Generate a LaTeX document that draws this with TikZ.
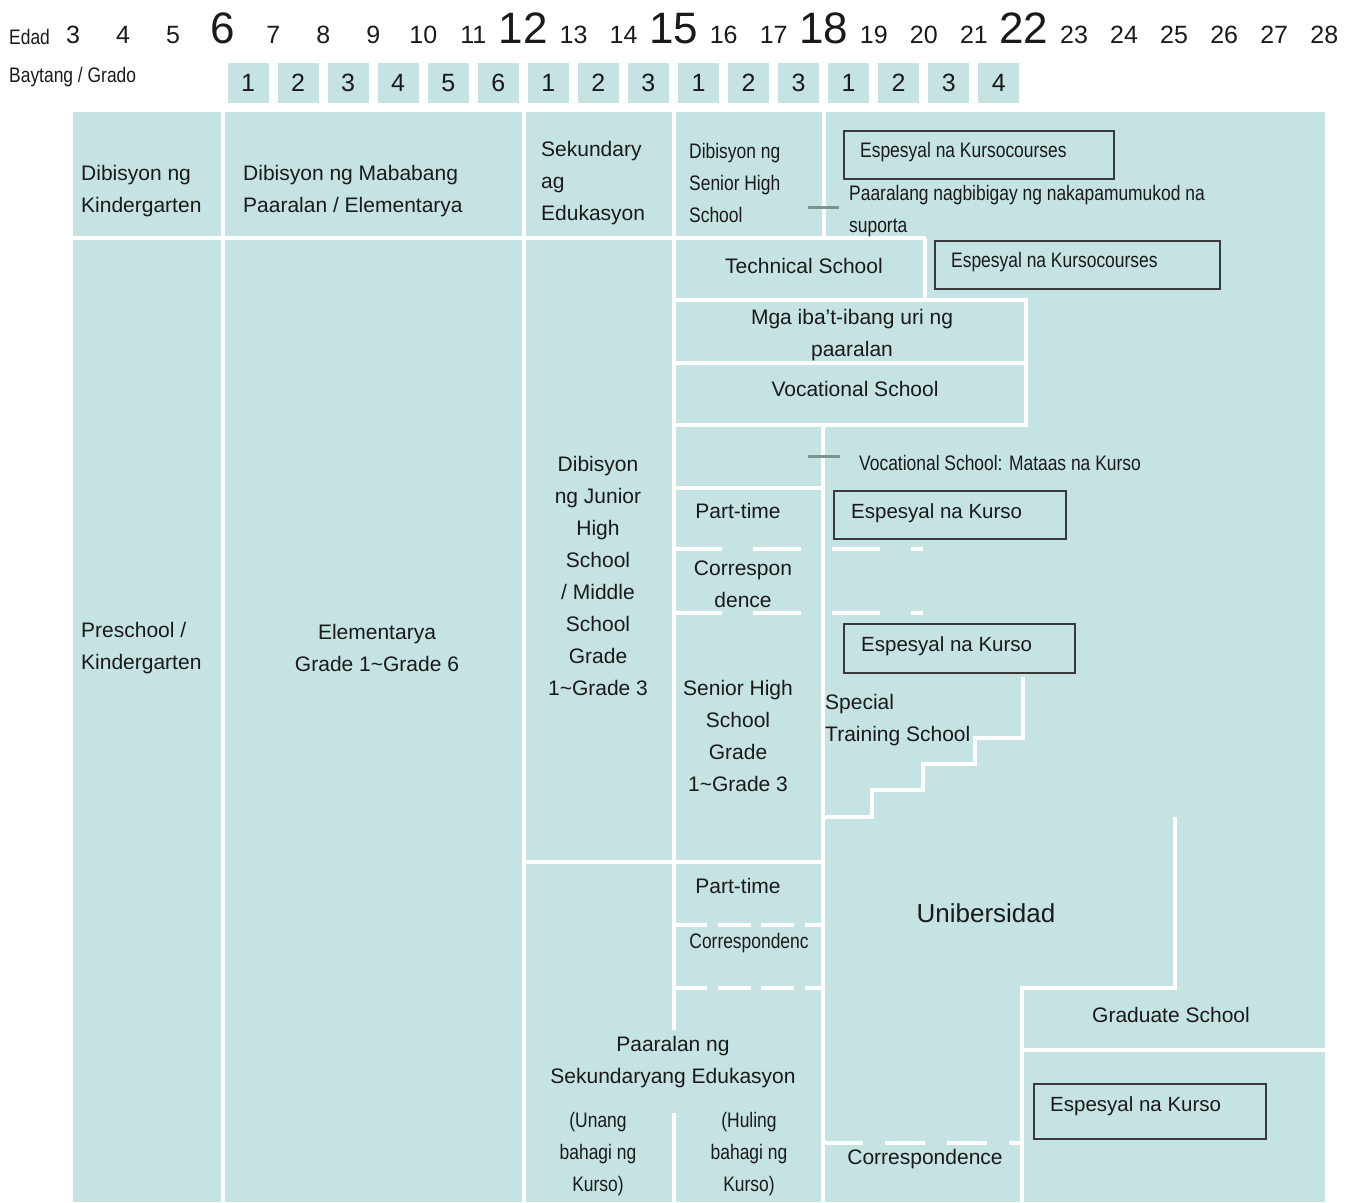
\documentclass[tikz,border=0pt]{standalone}
\usepackage{fontspec}
\setmainfont{Liberation Sans}
\newfontfamily\narrowfont[FakeStretch=0.83]{Liberation Sans}
\definecolor{teal1}{HTML}{C4E3E2}
\definecolor{ink}{HTML}{1A1A1A}
\definecolor{boxline}{HTML}{3A3A3A}
\definecolor{dashgray}{HTML}{7E9292}
\begin{document}
\begin{tikzpicture}[x=1pt,y=-1pt,
  wl/.style={white,line width=4.5pt},
  wd1/.style={wl,dash pattern=on 48pt off 31pt},
  wd2/.style={wl,dash pattern=on 33pt off 10.5pt},
  wd3/.style={wl,dash pattern=on 40pt off 22pt},
  gseg/.style={dashgray,line width=3pt},
  txt/.style={inner sep=0pt,text=ink,font=\fontsize{21}{32}\selectfont,align=center},
  ltxt/.style={txt,align=left,anchor=west},
  ntxt/.style={inner sep=0pt,text=ink,font=\narrowfont\fontsize{21}{32}\selectfont,align=center},
  lntxt/.style={ntxt,align=left,anchor=west},
  ktxt/.style={inner sep=0pt,text=ink,font=\fontsize{20.5}{24}\selectfont,anchor=west},
  age/.style={inner sep=0pt,anchor=base,text=ink,font=\fontsize{25}{25}\selectfont},
  bigage/.style={age,font=\fontsize{44}{44}\selectfont},
  gradebox/.style={fill=teal1,minimum width=41pt,minimum height=40pt,inner sep=0pt,text=ink,font=\fontsize{25}{25}\selectfont},
  kbox/.style={draw=boxline,line width=2pt,inner sep=0pt,anchor=north west}
]
\useasboundingbox (0,0) rectangle (1357,1202);

% header labels
\node[lntxt] (edad) at (9,37) {Edad};
\node[lntxt] (baytang) at (9,77) {Baytang / Grado};
\foreach \a in {3,4,5,7,8,9,10,11,13,14,16,17,19,20,21,23,24,25,26,27,28}
  \node[age] (age\a) at ({73+50.05*(\a-3)},43) {\a};
\foreach \a in {6,12,15,18,22}
  \node[bigage] (age\a) at ({73+50.05*(\a-3)},43) {\a};
\foreach \lab [count=\i from 0] in {1,2,3,4,5,6,1,2,3,1,2,3,1,2,3,4}
  \node[gradebox] (g\i) at ({248+50.05*\i},83) {\lab};

% teal block
\fill[teal1] (73,112) rectangle (1325,1202);

% white separators
\draw[wl] (223,112) -- (223,1202);
\draw[wl] (524,112) -- (524,1202);
\draw[wl] (674,112) -- (674,1030);
\draw[wl] (674,1113) -- (674,1202);
\draw[wl] (824,112) -- (824,238);
\draw[wl] (823,425) -- (823,1202);
\draw[wl] (73,238) -- (926,238);
\draw[wl] (925,238) -- (925,300);
\draw[wl] (674,300) -- (1028,300);
\draw[wl] (674,363) -- (1028,363);
\draw[wl] (674,425) -- (1028,425);
\draw[wl] (1026,300) -- (1026,425);
\draw[wl] (674,488) -- (823,488);
\draw[wd1] (674,549) -- (923,549);
\draw[wd1] (674,613) -- (923,613);
\draw[wl,line join=miter] (1023,677) -- (1023,738) -- (975,738) -- (975,764) -- (923,764) -- (923,790) -- (872,790) -- (872,817) -- (823,817);
\draw[wl] (524,862) -- (823,862);
\draw[wd2] (674,925) -- (822,925);
\draw[wd2] (674,988) -- (822,988);
\draw[wl,line join=miter] (1175,817) -- (1175,988) -- (1022,988) -- (1022,1202);
\draw[wl] (1022,1050) -- (1325,1050);
\draw[wd3] (823,1143) -- (1022,1143);

% gray ticks
\draw[gseg] (808,207) -- (839,207);
\draw[gseg] (808,456) -- (840,456);

% boxes
\node[kbox,minimum width=270pt,minimum height=48pt] (k1) at (843,130) {};
\node[lntxt] (k1t) at (860,152) {Espesyal na Kursocourses};
\node[kbox,minimum width=285pt,minimum height=48pt] (k2) at (934,240) {};
\node[lntxt] (k2t) at (951,262) {Espesyal na Kursocourses};
\node[kbox,minimum width=232pt,minimum height=48pt] (k3) at (833,490) {};
\node[ktxt] (k3t) at (851,513) {Espesyal na Kurso};
\node[kbox,minimum width=231pt,minimum height=49pt] (k4) at (843,623) {};
\node[ktxt] (k4t) at (861,646) {Espesyal na Kurso};
\node[kbox,minimum width=232pt,minimum height=55pt] (k5) at (1033,1083) {};
\node[ktxt] (k5t) at (1050,1106) {Espesyal na Kurso};

% texts
\node[ltxt] (kdiv) at (81,191) {Dibisyon ng\\Kindergarten};
\node[ltxt] (ediv) at (243,191) {Dibisyon ng Mababang\\Paaralan / Elementarya};
\node[ltxt] (sdiv) at (541,183) {Sekundary\\ag\\Edukasyon};
\node[lntxt] (shdiv) at (689,183) {Dibisyon ng\\Senior High\\School};
\node[lntxt] (para) at (849,211) {Paaralang nagbibigay ng nakapamumukod na\\suporta};
\node[txt] (tech) at (804,266) {Technical School};
\node[txt] (mga) at (852,335) {Mga iba’t-ibang uri ng\\paaralan};
\node[txt] (voc) at (855,389) {Vocational School};
\node[lntxt] (vochigh) at (859,463) {Vocational School: Mataas na Kurso};
\node[txt] (pt1) at (738,511) {Part-time};
\node[txt] (corr1) at (743,584) {Correspon\\dence};
\node[txt] (jhs) at (598,576) {Dibisyon\\ng Junior\\High\\School\\/ Middle\\School\\Grade\\1\textasciitilde Grade 3};
\node[txt] (shs) at (738,736) {Senior High\\School\\Grade\\1\textasciitilde Grade 3};
\node[ltxt] (sts) at (825,720) {Special\\Training School};
\node[ltxt] (pre) at (81,648) {Preschool /\\Kindergarten};
\node[txt] (elem) at (377,648) {Elementarya\\Grade 1\textasciitilde Grade 6};
\node[txt] (pt2) at (738,886) {Part-time};
\node[ntxt] (corr2) at (749,943) {Correspondenc};
\node[txt,font=\fontsize{26}{30}\selectfont] (univ) at (986,913) {Unibersidad};
\node[txt] (sek) at (673,1062) {Paaralan ng\\Sekundaryang Edukasyon};
\node[ntxt] (unang) at (598,1154) {(Unang\\bahagi ng\\Kurso)};
\node[ntxt] (huling) at (749,1154) {(Huling\\bahagi ng\\Kurso)};
\node[txt] (grad) at (1171,1015) {Graduate School};
\node[txt] (corr3) at (925,1159) {Correspondence};
\end{tikzpicture}
\end{document}
